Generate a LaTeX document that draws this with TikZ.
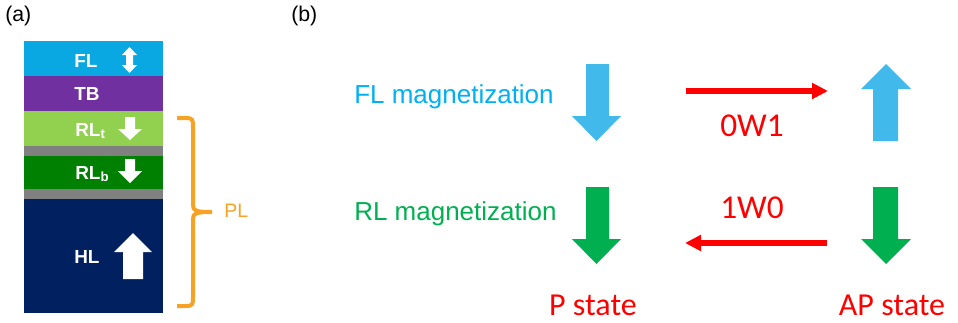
\documentclass[tikz,border=0pt]{standalone}
\usepackage{fontspec}
\setmainfont{Liberation Sans}
\newfontfamily\calib{Carlito}
\usetikzlibrary{arrows.meta}
\definecolor{flblue}{HTML}{09A8E2}
\definecolor{tbpurple}{HTML}{7030A0}
\definecolor{rltgreen}{HTML}{92D050}
\definecolor{rlbgreen}{HTML}{008000}
\definecolor{spacer}{HTML}{808080}
\definecolor{hlnavy}{HTML}{002060}
\definecolor{braceorange}{HTML}{F5A225}
\definecolor{fltext}{HTML}{00B0F0}
\definecolor{rltext}{HTML}{00B050}
\definecolor{fatblue}{HTML}{41B9EA}
\definecolor{fatgreen}{HTML}{00B050}
\definecolor{writered}{HTML}{FF0000}
\tikzset{
  layerlabel/.style={text=white, font=\bfseries\fontsize{14.2}{16}\selectfont, inner sep=0pt, anchor=base west},
  panel/.style={font=\fontsize{16}{18}\selectfont, inner sep=0pt, anchor=base west},
  magtext/.style={font=\fontsize{19.5}{22}\selectfont, inner sep=0pt, anchor=base west},
  redlabel/.style={text=writered, font=\calib\fontsize{25}{28}\selectfont, inner sep=0pt, anchor=base},
  statelabel/.style={text=writered, font=\calib\fontsize{24}{28}\selectfont, inner sep=0pt, anchor=base},
  writearrow/.style={draw=writered, line width=4.5pt, -{Triangle[length=12pt, width=11.5pt]}},
}
\begin{document}
\begin{tikzpicture}[x=0.75pt, y=-0.75pt]
\useasboundingbox (0,0) rectangle (958,322);

% panel labels
\node[panel] (pa) at (5,21) {(a)};
\node[panel] (pb) at (291,21) {(b)};

% layer stack
\fill[flblue]   (24,41)  rectangle (163,76);
\fill[tbpurple] (24,76)  rectangle (163,111);
\fill[rltgreen] (24,111) rectangle (163,146);
\fill[spacer]   (24,146) rectangle (163,156);
\fill[rlbgreen] (24,156) rectangle (163,189);
\fill[spacer]   (24,189) rectangle (163,199);
\fill[hlnavy]   (24,199) rectangle (163,313);

\node[layerlabel] (fl)  at (74,67)  {FL};
\node[layerlabel] (tb)  at (74,100) {TB};
\node[layerlabel] (rlt) at (75,136) {RL\textsubscript{t}};
\node[layerlabel] (rlb) at (75,179) {RL\textsubscript{b}};
\node[layerlabel] (hl)  at (74,263) {HL};

% white moment arrows in the stack
\fill[white] (129.5,47) -- (137,55) -- (133,55) -- (133,65) -- (137,65) -- (129.5,73)
  -- (122,65) -- (126,65) -- (126,55) -- (122,55) -- cycle;
\fill[white] (125,117) -- (135,117) -- (135,129) -- (142,129) -- (130,140) -- (118,129) -- (125,129) -- cycle;
\fill[white] (125,159) -- (135,159) -- (135,171) -- (142,171) -- (130,183) -- (118,171) -- (125,171) -- cycle;
\fill[white] (133,233) -- (152,252) -- (143,252) -- (143,279) -- (123,279) -- (123,252) -- (114,252) -- cycle;

% pinned-layer brace
\draw[braceorange, line width=3pt]
  (177,118) -- (186,118) .. controls (193,118) and (193,120) .. (193,127) -- (193,205)
  .. controls (193,211) and (196,212) .. (212,212);
\draw[braceorange, line width=3pt]
  (177,306) -- (186,306) .. controls (193,306) and (193,304) .. (193,297) -- (193,219)
  .. controls (193,213) and (196,212) .. (212,212);
\node[text=braceorange, font=\fontsize{14.6}{17}\selectfont, inner sep=0pt, anchor=base west] (pl) at (224,217) {PL};

% row labels
\node[magtext, text=fltext] (flmag) at (354,103) {FL magnetization};
\node[magtext, text=rltext] (rlmag) at (354,220) {RL magnetization};

% FL moments
\fill[fatblue] (586,64) -- (609,64) -- (609,116) -- (621,116) -- (596.5,141) -- (572,116) -- (586,116) -- cycle;
\fill[fatblue] (886,64) -- (911,89) -- (898,89) -- (898,141) -- (873,141) -- (873,89) -- (861,89) -- cycle;
% RL moments
\fill[fatgreen] (586,187) -- (609,187) -- (609,239) -- (621,239) -- (596.5,264) -- (572,239) -- (586,239) -- cycle;
\fill[fatgreen] (873,187) -- (898,187) -- (898,239) -- (911,239) -- (886,264) -- (861,239) -- (873,239) -- cycle;

% write transitions
\coordinate (w1a) at (686,91);
\coordinate (w1b) at (828,91);
\coordinate (w0a) at (827,243);
\coordinate (w0b) at (685,243);
\draw[writearrow] (w1a) -- (w1b);
\draw[writearrow] (w0a) -- (w0b);
\node[redlabel] (l0w1) at (752,136) {0W1};
\node[redlabel] (l1w0) at (752,218) {1W0};

% states
\node[statelabel] (pst)  at (593,315) {P state};
\node[statelabel] (apst) at (892,315) {AP state};
\end{tikzpicture}
\end{document}
